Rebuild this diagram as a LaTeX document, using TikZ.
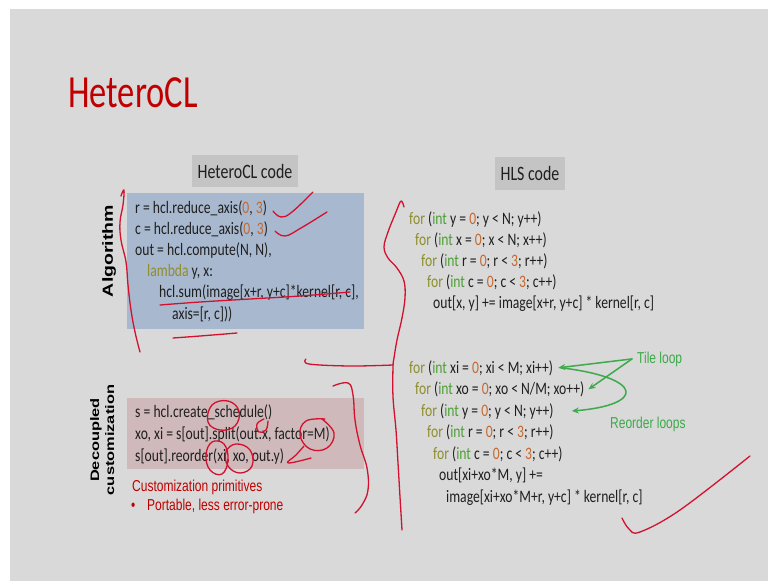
\documentclass[tikz,border=0pt]{standalone}
\usepackage{fontspec}
\usepackage{graphicx}
\usetikzlibrary{arrows.meta}

% Slide fonts (narrow setting)
\newfontfamily\codefont{Carlito}[FakeStretch=0.78]
\newfontfamily\titlefont{Carlito}[FakeStretch=0.75]
\newfontfamily\labelfont{Liberation Sans}[FakeStretch=0.76]
\newfontfamily\sidefont{Liberation Sans}

\definecolor{slidebg}{HTML}{D9D9D9}
\definecolor{hdrgray}{HTML}{C4C4C4}
\definecolor{algblue}{HTML}{A8B8CF}
\definecolor{custpink}{HTML}{D0B9BA}
\definecolor{titlered}{HTML}{C00000}
\definecolor{handred}{HTML}{D3112E}
\definecolor{arrowgreen}{HTML}{3DAA4B}
\definecolor{kwolive}{HTML}{8E8E2E}
\definecolor{tygreen}{HTML}{4E9F37}
\definecolor{numorange}{HTML}{C4692F}
\definecolor{codeblack}{HTML}{1F1F1F}

% syntax colouring in the code listings
\newcommand\kw[1]{\textcolor{kwolive}{#1}}
\newcommand\ty[1]{\textcolor{tygreen}{#1}}
\newcommand\nm[1]{\textcolor{numorange}{#1}}

\begin{document}
\begin{tikzpicture}[x=1pt,y=-1pt,
  code/.style={anchor=base west, inner sep=0pt, text=codeblack,
    font=\codefont\fontsize{17.5}{21}\selectfont},
  hdr/.style={fill=hdrgray, inner sep=0pt, text=codeblack,
    font=\codefont\fontsize{20.4}{24}\selectfont},
  panel/.style={inner sep=0pt, draw=none},
  redlabel/.style={anchor=base west, inner sep=0pt, text=titlered,
    font=\labelfont\fontsize{15.8}{19}\selectfont},
  greenlabel/.style={anchor=base west, inner sep=0pt, text=arrowgreen,
    font=\labelfont\fontsize{15.8}{19}\selectfont},
  sidelabel/.style={inner sep=0pt, text=black},
  hand/.style={draw=handred, line width=1.3pt, line cap=round, line join=round},
  greenarrow/.style={draw=arrowgreen, line width=1.5pt, line cap=round,
    -{Stealth[length=7pt,width=6pt]}}
]
\useasboundingbox (0,0) rectangle (768,581);
\fill[white] (0,0) rectangle (768,581);
\fill[slidebg] (10,9) rectangle (768,581);

% title
\node[anchor=base west, inner sep=0pt, text=titlered,
      font=\titlefont\fontsize{46}{50}\selectfont] (title) at (68,107) {HeteroCL};

% column headers
\node[hdr, minimum width=106, minimum height=32] (hdrcl) at (245,171) {HeteroCL code};
\node[hdr, minimum width=70, minimum height=33] (hdrhls) at (530,173.5) {HLS code};

% panels
\node[panel, fill=algblue, minimum width=237, minimum height=136] (algbox) at (245.5,261) {};
\node[panel, fill=custpink, minimum width=237, minimum height=71] (custbox) at (245.5,433.5) {};

% side labels
\node[sidelabel] (alglab) at (109,251)
  {\scalebox{0.75}[1]{\rotatebox{90}{\sidefont\bfseries\fontsize{19.5}{23}\selectfont Algorithm}}};
\node[sidelabel] (declab) at (103.5,440)
  {\scalebox{0.75}[1]{\rotatebox{90}{\sidefont\bfseries\fontsize{16.4}{20}\selectfont
   \begin{tabular}{@{}c@{}}Decoupled\\customization\end{tabular}}}};

% algorithm code
\node[code] (a1) at (135,213)   {r = hcl.reduce\_axis(\nm{0}, \nm{3})};
\node[code] (a2) at (135,234.2) {c = hcl.reduce\_axis(\nm{0}, \nm{3})};
\node[code] (a3) at (135,255.4) {out = hcl.compute(N, N),};
\node[code] (a4) at (147,276.6) {\kw{lambda} y, x:};
\node[code] (a5) at (159,297.8) {hcl.sum(image[x+r, y+c]*kernel[r, c],};
\node[code] (a6) at (172,319)   {axis=[r, c]))};

% schedule code
\node[code] (s1) at (135,417) {s = hcl.create\_schedule()};
\node[code] (s2) at (135,439) {xo, xi = s[out].split(out.x, factor=M)};
\node[code] (s3) at (135,461) {s[out].reorder(xi, xo, out.y)};

\node[redlabel] (prim) at (132,491) {Customization primitives};
\node[redlabel] (bullet) at (131,510) {•};
\node[redlabel] (port) at (147,510) {Portable, less error-prone};

% generated HLS code, plain loop nest
\node[code] (h1) at (409,224) {\kw{for} (\ty{int} y = \nm{0}; y < N; y++)};
\node[code] (h2) at (415,245) {\kw{for} (\ty{int} x = \nm{0}; x < N; x++)};
\node[code] (h3) at (421,266) {\kw{for} (\ty{int} r = \nm{0}; r < \nm{3}; r++)};
\node[code] (h4) at (427,287) {\kw{for} (\ty{int} c = \nm{0}; c < \nm{3}; c++)};
\node[code] (h5) at (433,308) {out[x, y] += image[x+r, y+c] * kernel[r, c]};

% generated HLS code, tiled and reordered
\node[code] (t1) at (409,373)   {\kw{for} (\ty{int} xi = \nm{0}; xi < M; xi++)};
\node[code] (t2) at (415,394.5) {\kw{for} (\ty{int} xo = \nm{0}; xo < N/M; xo++)};
\node[code] (t3) at (421,416)   {\kw{for} (\ty{int} y = \nm{0}; y < N; y++)};
\node[code] (t4) at (427,437.5) {\kw{for} (\ty{int} r = \nm{0}; r < \nm{3}; r++)};
\node[code] (t5) at (433,459)   {\kw{for} (\ty{int} c = \nm{0}; c < \nm{3}; c++)};
\node[code] (t6) at (439,480.5) {out[xi+xo*M, y] +=};
\node[code] (t7) at (446,502)   {image[xi+xo*M+r, y+c] * kernel[r, c]};

% loop annotations
\node[greenlabel] (tile) at (637,363) {Tile loop};
\node[greenlabel] (reorder) at (610,428) {Reorder loops};

\draw[greenarrow] ([xshift=-5pt]tile.west) -- ([xshift=5pt]t1.east);
\draw[greenarrow] ([xshift=-5pt]tile.west) -- ([xshift=4pt]t2.east);
\draw[greenarrow] ([xshift=8pt]t1.east) .. controls (645,378) and (645,405) .. ([xshift=18pt]t3.east);

% handwritten red marks
\draw[hand] plot[smooth, tension=0.7] coordinates
  {(121,196) (124,190) (123,205) (120,222) (121,240) (126,262) (128,285) (131,310) (135,332) (140,352)};
\draw[hand] plot[smooth, tension=0.7] coordinates {(273,211) (281,217) (292,212) (313,192)};
\draw[hand] plot[smooth, tension=0.7] coordinates {(275,231) (285,236) (301,228) (327,212)};
\draw[hand] plot[smooth, tension=0.7] coordinates {(160,305) (200,302) (250,299) (300,296) (350,292)};
\draw[hand] plot[smooth, tension=0.7] coordinates {(173,338) (200,336) (237,333)};

% brace between the two columns
\draw[hand] plot[smooth, tension=0.6] coordinates
  {(404,207) (401,201) (396,212) (388,232) (384,247) (388,258) (397,268) (404,281)
   (405,298) (402,318) (397,340) (394,358) (393,367) (393,397) (396,430) (398,463)
   (400,497) (402,530)};
\draw[hand] plot[smooth, tension=0.6] coordinates {(306,359) (309,364) (350,366) (393,365)};

% marks on the schedule code
\draw[hand] plot[smooth cycle, tension=0.7] coordinates
  {(208,422) (212,405) (228,401) (239,411) (235,426) (220,430)};
\draw[hand] plot[smooth, tension=0.7] coordinates {(264,419) (257,424) (259,432) (266,430) (268,421)};
\draw[hand] plot[smooth, tension=0.7] coordinates
  {(325,419) (306,421) (300,435) (310,449) (327,448) (334,433) (322,419)};
\draw[hand] plot[smooth, tension=0.7] coordinates {(304,446) (296,455) (288,463) (311,458)};
\draw[hand] plot[smooth cycle, tension=0.7] coordinates
  {(206,455) (212,442) (224,444) (228,460) (222,474) (210,470)};
\draw[hand] plot[smooth cycle, tension=0.7] coordinates
  {(226,452) (236,444) (250,450) (252,466) (240,473) (228,466)};
\draw[hand] plot[smooth, tension=0.7] coordinates
  {(333,386) (348,383) (353,395) (355,420) (360,445) (367,468) (368,490) (362,505) (355,513)};

% check mark at the bottom right
\draw[hand] plot[smooth, tension=0.6] coordinates {(622,518) (629,529) (640,532) (680,510) (750,456)};
\end{tikzpicture}
\end{document}
